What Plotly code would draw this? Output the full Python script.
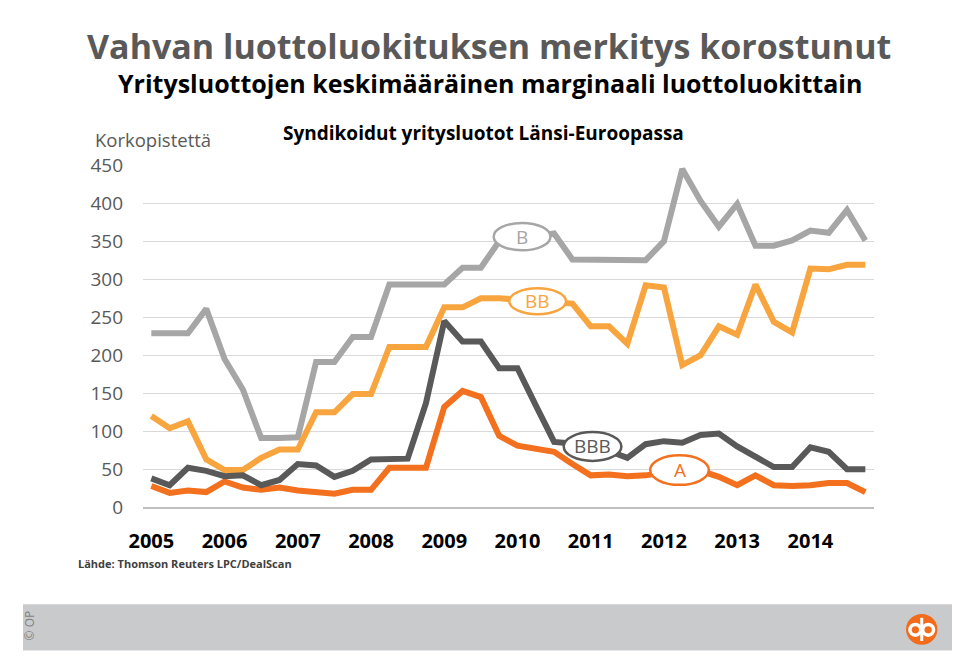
import plotly.graph_objects as go

W, H = 960, 668
OFF = 8  # page body margin: figure pixel = screen pixel - OFF

# ---------------- data ----------------
years = list(range(2005, 2015))
quarters = [f"{y}Q{q}" for y in years for q in range(1, 5)]
year_ticks = [f"{y}Q1" for y in years]
year_labels = [str(y) for y in years]

rating_B = [229, 229, 229, 261, 195, 155, 91, 91, 92, 191, 191, 224, 224, 293, 293, 293,
            293, 315, 315, 350, 353, 357, 360, 326, 326, 326, 326, 325, 350, 445, 403, 369,
            399, 344, 344, 351, 364, 361, 391, 351]
rating_BB = [120, 104, 113, 63, 49, 49, 65, 76, 76, 125, 125, 149, 149, 211, 211, 211,
             263, 263, 275, 275, 273, 271, 270, 268, 238, 238, 215, 292, 289, 187, 200, 238,
             227, 293, 244, 230, 314, 313, 319, 319]
rating_BBB = [38, 29, 52, 48, 41, 42, 29, 36, 57, 55, 40, 48, 63, 64, 64, 137,
              245, 218, 218, 183, 183, 134, 86, 84, 80, 74, 65, 83, 87, 85, 95, 97,
              80, 66, 53, 53, 79, 73, 50, 50]
rating_A = [28, 19, 22, 20, 34, 26, 23, 26, 22, 20, 18, 23, 23, 52, 52, 52,
            132, 153, 145, 94, 81, 76, 73, 57, 42, 43, 41, 42, 46, 49, 48, 40,
            29, 42, 29, 28, 29, 32, 32, 20]

y_ticks = list(range(0, 451, 50))

# ---------------- styles ----------------
FONT = "'Open Sans', Lato, sans-serif"
C_B = "#a6a6a6"
C_BB = "#f8a53f"
C_BBB = "#595959"
C_A = "#f2701e"

series = [
    ("B", rating_B, C_B),
    ("BB", rating_BB, C_BB),
    ("A", rating_A, C_A),
    ("BBB", rating_BBB, C_BBB),
]

# plot area in screen pixels
PX0, PX1 = 130, 873
PY0, PY1 = 158, 514  # top, bottom


def px(x):
    return (x - OFF) / W


def py(y):
    return 1 - (y - OFF) / H


fig = go.Figure()
for name, vals, col in series:
    fig.add_trace(go.Scatter(
        x=quarters, y=vals, mode="lines", name=name,
        line=dict(color=col, width=6), showlegend=False, hoverinfo="x+y+name",
    ))

# label ellipses (centre index, centre value, width idx, height value)
labels = [
    ("B", 20.25, 356, 3.1, 36, C_B),
    ("BB", 21.1, 271, 3.1, 34, C_BB),
    ("BBB", 24.1, 80, 3.15, 38, C_BBB),
    ("A", 28.85, 49, 3.2, 39, C_A),
]
shapes = []
annotations = []
for txt, cx, cy, w, h, col in labels:
    shapes.append(dict(type="circle", xref="x", yref="y",
                       x0=cx - w / 2, x1=cx + w / 2, y0=cy - h / 2, y1=cy + h / 2,
                       fillcolor="white", line=dict(color=col, width=2.5), layer="above"))
    annotations.append(dict(x=cx, y=cy, xref="x", yref="y", text=txt, showarrow=False,
                            font=dict(family=FONT, size=19, color=col)))

# texts
annotations += [
    dict(x=px(481), y=1.0, xref="paper", yref="paper", text="<b>Vahvan luottoluokituksen merkitys korostunut</b>",
         showarrow=False, font=dict(family=FONT, size=34, color="#595959"), xanchor="center", yanchor="top"),
    dict(x=px(482), y=py(72), xref="paper", yref="paper", text="<b>Yritysluottojen keskimääräinen marginaali luottoluokittain</b>",
         showarrow=False, font=dict(family=FONT, size=25, color="#000000"), xanchor="center", yanchor="middle"),
    dict(x=px(270), y=py(125), xref="paper", yref="paper", text="<b>Syndikoidut yritysluotot Länsi-Euroopassa</b>",
         showarrow=False, font=dict(family=FONT, size=19, color="#000000"), xanchor="left", yanchor="middle"),
    dict(x=px(79), y=py(131), xref="paper", yref="paper", text="Korkopistettä",
         showarrow=False, font=dict(family=FONT, size=18.5, color="#595959"), xanchor="left", yanchor="middle"),
    dict(x=px(62), y=py(572), xref="paper", yref="paper", text="<b>Lähde: Thomson Reuters LPC/DealScan</b>",
         showarrow=False, font=dict(family=FONT, size=11, color="#404040"), xanchor="left", yanchor="middle"),
    dict(x=px(15), y=py(637), xref="paper", yref="paper", text="© OP", textangle=-90,
         showarrow=False, font=dict(family=FONT, size=12, color="#7f7f7f"), xanchor="center", yanchor="middle"),
]

# footer band and logo
shapes += [
    dict(type="rect", xref="paper", yref="paper", x0=0, x1=px(952), y0=py(663), y1=py(615),
         fillcolor="#c9cacc", line=dict(width=0), layer="below"),
    dict(type="circle", xref="paper", yref="paper", x0=px(905), x1=px(937), y0=py(657), y1=py(625),
         fillcolor="#f26c1c", line=dict(width=0)),
    dict(type="circle", xref="paper", yref="paper", x0=px(909), x1=px(920), y0=py(647), y1=py(636),
         fillcolor="rgba(0,0,0,0)", line=dict(color="white", width=3.5)),
    dict(type="circle", xref="paper", yref="paper", x0=px(922), x1=px(933), y0=py(647), y1=py(636),
         fillcolor="rgba(0,0,0,0)", line=dict(color="white", width=3.5)),
    dict(type="line", xref="paper", yref="paper", x0=px(921), x1=px(921), y0=py(653), y1=py(629),
         line=dict(color="white", width=3)),
]

fig.update_layout(
    width=W, height=H,
    margin=dict(l=0, r=0, t=0, b=0),
    paper_bgcolor="white", plot_bgcolor="white",
    shapes=shapes, annotations=annotations,
    xaxis=dict(
        domain=[px(PX0), px(PX1)], type="category", range=[-0.45, 39.5],
        tickmode="array", tickvals=year_ticks, ticktext=year_labels,
        tickfont=dict(family=FONT, size=20, color="#000000", weight="bold"),
        showgrid=False, zeroline=False, showline=True, linecolor="#bfbfbf", linewidth=2,
        ticks="", ticklabelstandoff=15,
    ),
    yaxis=dict(
        domain=[py(PY1), py(PY0)], range=[0, 450],
        tickmode="array", tickvals=y_ticks,
        tickfont=dict(family=FONT, size=19, color="#595959"),
        showgrid=True, gridcolor="#d9d9d9", gridwidth=1, zeroline=False,
        ticks="", ticklabelstandoff=19,
    ),
)

fig.write_html("out.html")
